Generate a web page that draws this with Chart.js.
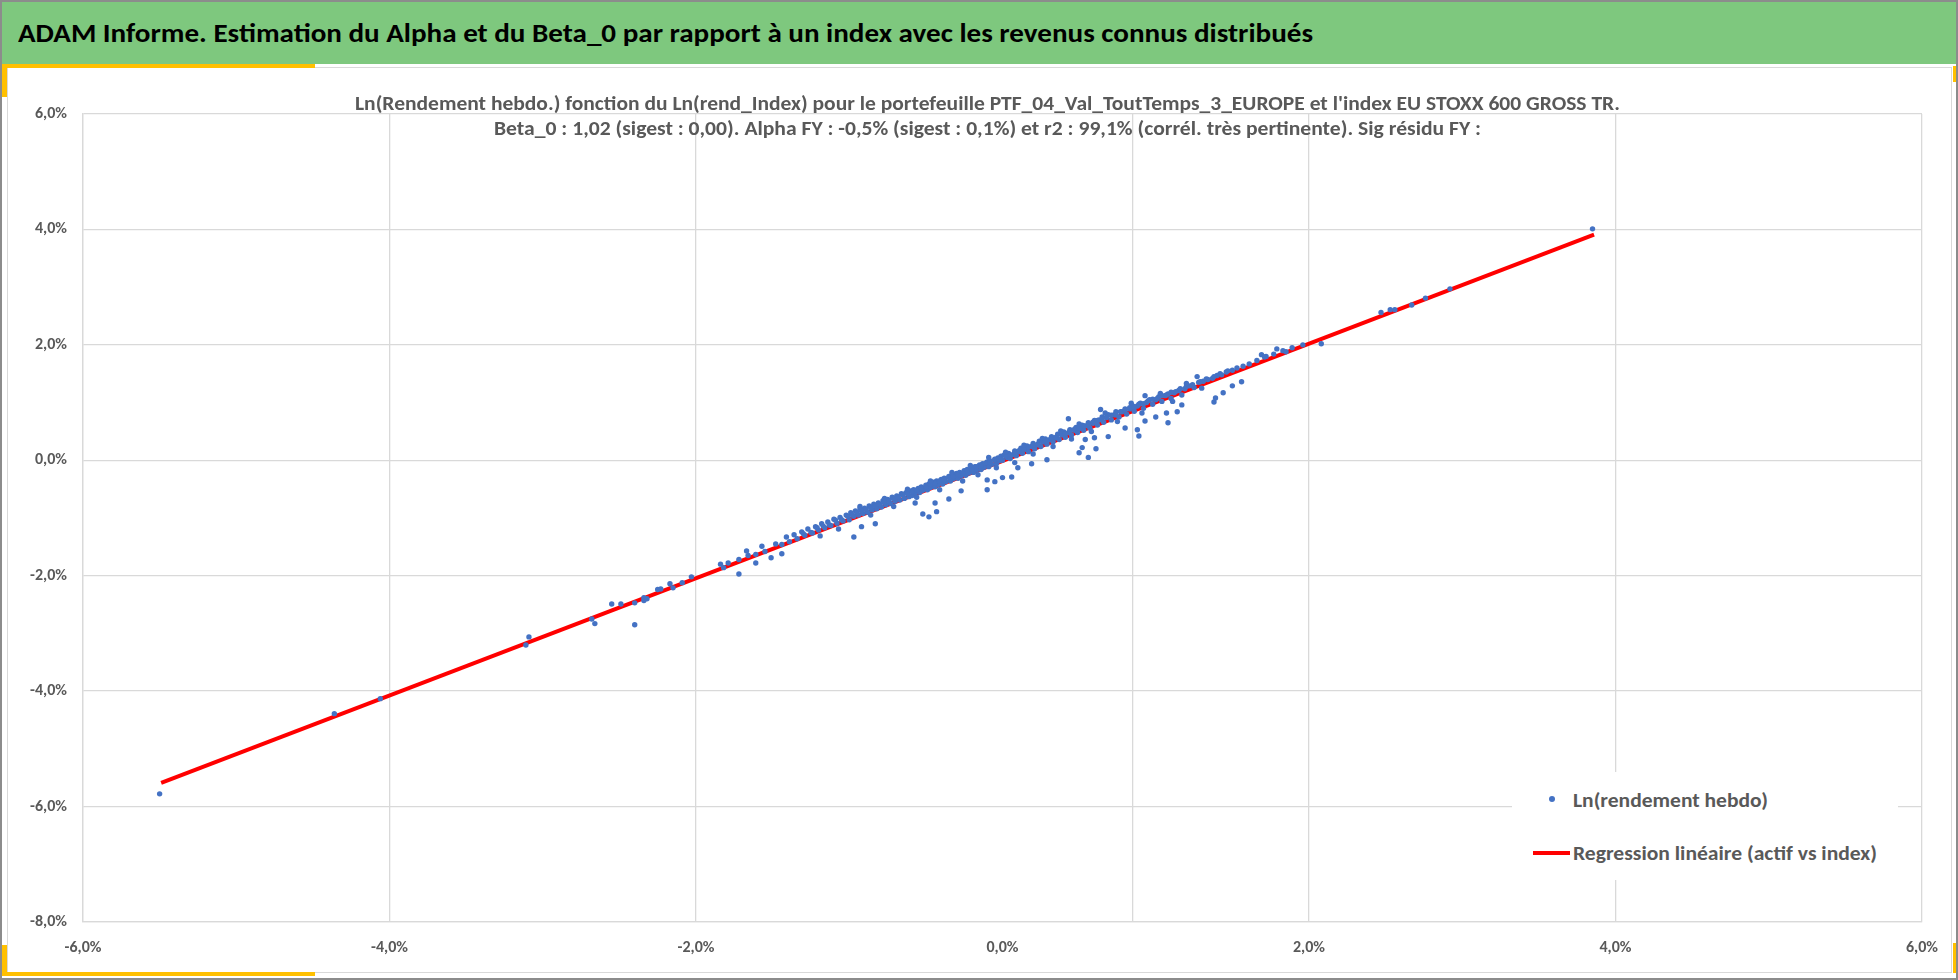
<!DOCTYPE html>
<html>
<head>
<meta charset="utf-8">
<title>ADAM Informe - Alpha et Beta_0</title>
<script src="https://cdn.jsdelivr.net/npm/chart.js@4.4.1/dist/chart.umd.min.js"></script>
<style>
  body { margin: 0; background: #fff; }
  #page { position: relative; width: 1958px; height: 980px; overflow: hidden; background: #fff;
          font-family: Carlito, Calibri, Lato, "Open Sans", sans-serif; }
  #cadre { position: absolute; left: 0; top: 0; width: 1954px; height: 976px; border: 2px solid #8c8c8c; }
  #bandeau { position: absolute; left: 2px; top: 2px; width: 1954px; height: 62px; background: #7ec87e; }
  #panneau { position: absolute; left: 7px; top: 67px; width: 1943px; height: 904px; border: 1px solid #d9d9d9; }
  .orange { position: absolute; background: #ffc000; }
  .txt { position: absolute; white-space: nowrap; font-weight: bold; transform-origin: left center; }
  #legende { position: absolute; left: 1512px; top: 772px; width: 386px; height: 108px; background: #fff; }
  canvas { position: absolute; left: 0; top: 0; }
</style>
</head>
<body>
<div id="page">
  <div id="cadre"></div>
  <div id="bandeau"></div>
  <div id="panneau"></div>
  <div class="orange" style="left:2px;top:64px;width:313px;height:4px"></div>
  <div class="orange" style="left:2px;top:64px;width:5px;height:33px"></div>
  <div class="orange" style="left:2px;top:972px;width:313px;height:4px"></div>
  <div class="orange" style="left:2px;top:945px;width:5px;height:31px"></div>
  <div class="orange" style="left:1953px;top:66px;width:3px;height:16px"></div>
  <div class="orange" style="left:1953px;top:943px;width:3px;height:30px"></div>

  <div class="txt" id="titre" data-x="18" data-cy="33" data-w="1295"
       style="font-size:27px;line-height:32px;color:#000">ADAM Informe. Estimation du Alpha et du Beta_0 par rapport à un index avec les revenus connus distribués</div>

  <canvas id="graphique" width="1958" height="980"></canvas>

  <div class="txt" data-cx="987" data-cy="103" data-w="1265"
       style="font-size:20px;line-height:24px;color:#595959">Ln(Rendement hebdo.) fonction du Ln(rend_Index) pour le portefeuille PTF_04_Val_ToutTemps_3_EUROPE et l'index EU STOXX 600 GROSS TR.</div>
  <div class="txt" data-cx="987" data-cy="128" data-w="987"
       style="font-size:20px;line-height:24px;color:#595959">Beta_0 : 1,02 (sigest : 0,00).  Alpha FY : -0,5% (sigest : 0,1%) et r2 : 99,1% (corrél. très pertinente). Sig résidu FY :</div>

  <div id="legende"></div>
  <div style="position:absolute;left:1549px;top:796px;width:6px;height:6px;border-radius:50%;background:#4472c4"></div>
  <div style="position:absolute;left:1533px;top:851px;width:37px;height:4px;background:#ff0000"></div>
  <div class="txt" data-x="1573" data-cy="800" data-w="195"
       style="font-size:20px;line-height:24px;color:#595959">Ln(rendement hebdo)</div>
  <div class="txt" data-x="1573" data-cy="853" data-w="304"
       style="font-size:20px;line-height:24px;color:#595959">Regression linéaire (actif vs index)</div>
</div>

<script>
// Graduations des axes (en %)
const xTicks = [-6, -4, -2, 0, 2, 4, 6];
const yTicks = [-8, -6, -4, -2, 0, 2, 4, 6];
// Lignes verticales du quadrillage telles qu'elles apparaissent
const xGrid = [-6, -4, -2, 0.85, 2, 4, 6];

// Droite de regression (Ln rend_Index -> Ln rendement portefeuille)
const regX = [-5.49, 3.86];
const regY = [-5.59, 3.91];

// Semaines : [Ln(rend_Index) %, Ln(rendement hebdo) %]
const queueBasse = [[-5.50,-5.78],[-4.36,-4.39],[-4.06,-4.13],[-3.11,-3.20],[-3.09,-3.06],[-2.68,-2.75],[-2.66,-2.83],
  [-2.55,-2.49],[-2.49,-2.49],[-2.40,-2.85],[-2.40,-2.47],[-2.34,-2.38],[-2.34,-2.43],[-2.32,-2.40],[-2.25,-2.24],
  [-2.23,-2.23],[-2.17,-2.14],[-2.15,-2.21],[-2.09,-2.12],[-2.03,-2.02],[-1.84,-1.80],[-1.82,-1.86],[-1.79,-1.78],
  [-1.72,-1.72],[-1.72,-1.97],[-1.67,-1.57],[-1.66,-1.65],[-1.61,-1.78],[-1.61,-1.63],[-1.57,-1.49],[-1.55,-1.58],
  [-1.51,-1.69],[-1.48,-1.45]];

const bandeA = [[-1.44,-1.46],[-1.41,-1.33],[-1.39,-1.41],[-1.36,-1.29],[-1.34,-1.36],[-1.31,-1.24],[-1.29,-1.30],
  [-1.27,-1.19],[-1.24,-1.26],[-1.22,-1.15],[-1.20,-1.21],[-1.18,-1.10],[-1.16,-1.17],[-1.14,-1.07],[-1.12,-1.13],
  [-1.10,-1.02],[-1.08,-1.09],[-1.06,-0.99],[-1.04,-1.05],[-1.02,-0.95]];

const bandeB = [[-1.00,-1.03],[-0.99,-0.91],[-0.97,-0.97],[-0.96,-0.88],[-0.94,-0.95],[-0.93,-0.84],[-0.91,-0.92],
  [-0.90,-0.83],[-0.88,-0.90],[-0.87,-0.79],[-0.85,-0.86],[-0.84,-0.76],[-0.82,-0.84],[-0.81,-0.74],[-0.79,-0.81],
  [-0.78,-0.70],[-0.76,-0.77],[-0.75,-0.68],[-0.73,-0.75],[-0.72,-0.64],[-0.70,-0.71],[-0.69,-0.62],[-0.67,-0.69],
  [-0.66,-0.58],[-0.64,-0.66],[-0.63,-0.56],[-0.61,-0.63]];

const bandeC = [[-0.60,-0.53],[-0.59,-0.61],[-0.58,-0.51],[-0.57,-0.57],[-0.55,-0.49],[-0.54,-0.56],[-0.53,-0.46],
  [-0.52,-0.52],[-0.50,-0.43],[-0.49,-0.51],[-0.48,-0.41],[-0.47,-0.47],[-0.45,-0.38],[-0.44,-0.46],[-0.43,-0.36],
  [-0.42,-0.42],[-0.40,-0.33],[-0.39,-0.41],[-0.38,-0.31],[-0.37,-0.37],[-0.35,-0.28],[-0.34,-0.36],[-0.33,-0.26],
  [-0.32,-0.32],[-0.30,-0.23],[-0.29,-0.31],[-0.28,-0.21],[-0.27,-0.27],[-0.25,-0.18],[-0.24,-0.26],[-0.23,-0.16],
  [-0.22,-0.22],[-0.20,-0.13],[-0.19,-0.21],[-0.18,-0.11],[-0.17,-0.17],[-0.15,-0.08],[-0.14,-0.16],[-0.13,-0.06],
  [-0.12,-0.12],[-0.10,-0.03],[-0.09,-0.11],[-0.08,-0.01],[-0.07,-0.07],[-0.05,0.02],[-0.04,-0.06],[-0.03,0.04],
  [-0.02,-0.01],[-0.01,0.07]];

const bandeD = [[0.00,0.00],[0.01,0.09],[0.03,0.05],[0.04,0.12],[0.05,0.03],[0.07,0.10],[0.08,0.16],[0.09,0.08],
  [0.11,0.15],[0.12,0.21],[0.13,0.12],[0.15,0.19],[0.16,0.25],[0.17,0.15],[0.19,0.24],[0.20,0.29],[0.21,0.20],
  [0.23,0.28],[0.24,0.33],[0.25,0.24],[0.27,0.32],[0.28,0.37],[0.29,0.28],[0.31,0.36],[0.32,0.41],[0.33,0.32],
  [0.35,0.40],[0.36,0.45],[0.37,0.36],[0.39,0.44],[0.40,0.49],[0.41,0.40],[0.43,0.48],[0.44,0.53],[0.45,0.44],
  [0.47,0.52],[0.48,0.57],[0.49,0.48],[0.51,0.56],[0.52,0.61],[0.53,0.52],[0.55,0.60],[0.56,0.65],[0.57,0.56],
  [0.59,0.64]];

const bandeE = [[0.60,0.69],[0.62,0.61],[0.63,0.70],[0.65,0.75],[0.66,0.66],[0.68,0.74],[0.69,0.79],[0.71,0.70],
  [0.73,0.79],[0.74,0.84],[0.76,0.75],[0.78,0.84],[0.80,0.89],[0.81,0.80],[0.83,0.89],[0.85,0.94],[0.86,0.85],
  [0.88,0.94],[0.90,0.99],[0.92,0.90],[0.94,1.00],[0.96,1.05],[0.98,0.97],[1.00,1.05],[1.02,1.10],[1.04,1.02],
  [1.06,1.12],[1.08,1.15],[1.10,1.07],[1.12,1.17],[1.15,1.21],[1.17,1.13],[1.19,1.24]];

const bandeF = [[1.22,1.29],[1.25,1.26],[1.28,1.35],[1.31,1.37],[1.34,1.40],[1.37,1.42],[1.40,1.47],[1.43,1.48],
  [1.46,1.53],[1.50,1.56],[1.53,1.60],[1.57,1.63],[1.61,1.67],[1.66,1.73],[1.72,1.80],[1.77,1.84],[1.83,1.90],
  [1.89,1.95]];

const bandeMilieu = [[-1.30,-1.27],[-1.25,-1.25],[-1.21,-1.17],[-1.17,-1.14],[-1.13,-1.12],[-1.09,-1.04],[-1.05,-1.03],
  [-1.01,-0.97],[-0.98,-0.95],[-0.95,-0.91],[-0.92,-0.88],[-0.89,-0.85],[-0.86,-0.82],[-0.83,-0.79],[-0.80,-0.77],
  [-0.77,-0.73],[-0.74,-0.70],[-0.71,-0.66],[-0.68,-0.64],[-0.65,-0.60],[-0.62,-0.58],[-0.59,-0.54],[-0.56,-0.52],
  [-0.53,-0.48],[-0.50,-0.46],[-0.47,-0.42],[-0.44,-0.40],[-0.41,-0.36],[-0.38,-0.34],[-0.35,-0.30],[-0.32,-0.28],
  [-0.29,-0.24],[-0.26,-0.22],[-0.23,-0.17],[-0.20,-0.16],[-0.17,-0.11],[-0.14,-0.09],[-0.11,-0.05],[-0.08,-0.04],
  [-0.05,0.01],[-0.02,0.02],[0.02,0.08],[0.05,0.09],[0.08,0.14],[0.11,0.17],[0.14,0.20],[0.17,0.23],[0.20,0.26],
  [0.23,0.27],[0.26,0.32],[0.29,0.33],[0.32,0.38],[0.35,0.39],[0.38,0.45],[0.41,0.46],[0.44,0.51],[0.47,0.54],
  [0.50,0.55],[0.53,0.60],[0.56,0.61],[0.59,0.66],[0.62,0.69],[0.65,0.71],[0.68,0.75],[0.71,0.78],[0.74,0.79],
  [0.77,0.84],[0.80,0.87],[0.83,0.91],[0.86,0.92],[0.89,0.97],[0.92,0.98],[0.95,1.03],[0.98,1.06],[1.01,1.07],
  [1.04,1.12],[1.07,1.13],[1.10,1.18],[1.13,1.19],[1.16,1.24],[1.20,1.28],[1.24,1.31],[1.29,1.36],[1.33,1.41],
  [1.38,1.45],[1.42,1.50],[1.47,1.55]];

const bordsBande = [[-0.93,-0.80],[-0.86,-0.95],[-0.77,-0.66],[-0.71,-0.80],[-0.62,-0.50],[-0.56,-0.64],[-0.47,-0.36],
  [-0.41,-0.51],[-0.33,-0.21],[-0.26,-0.36],[-0.21,-0.09],[-0.16,-0.25],[-0.09,0.05],[-0.04,-0.13],[0.02,0.14],
  [0.08,-0.04],[0.14,0.26],[0.20,0.11],[0.26,0.38],[0.33,0.24],[0.38,0.51],[0.45,0.37],[0.50,0.63],[0.58,0.50],
  [0.67,0.82],[0.75,0.67],[0.84,0.99],[0.91,0.82],[1.03,1.16],[1.11,1.02],[1.20,1.33],[1.30,1.25]];

const sousLaDroite = [[-1.44,-1.62],[-1.19,-1.31],[-1.07,-1.19],[-0.97,-1.33],[-0.92,-1.15],[-0.83,-1.10],[-0.57,-0.74],
  [-0.52,-0.93],[-0.48,-0.98],[-0.44,-0.74],[-0.43,-0.89],[-0.35,-0.67],[-0.27,-0.53],[-0.10,-0.51],[-0.10,-0.34],
  [-0.05,-0.37],[0.00,-0.30],[0.06,-0.29],[0.10,-0.13],[0.19,-0.06],[0.29,0.01],[0.50,0.13],[0.52,0.22],[0.56,0.05],
  [0.54,0.36],[0.61,0.20],[0.60,0.39],[0.69,0.41],[0.80,0.56],[0.88,0.53],[0.89,0.42],[0.93,0.68],[1.00,0.75],
  [1.08,0.65],[1.07,0.82],[1.14,0.84],[1.17,0.96],[1.38,1.01],[1.39,1.08],[1.44,1.17],[1.50,1.29],[1.56,1.36]];

const auDessus = [[0.43,0.72],[0.64,0.88],[0.93,1.12],[1.27,1.45],[1.69,1.83],[1.79,1.93],[1.85,1.88],[1.71,1.79]];

const queueHaute = [[1.96,2.00],[2.08,2.02],[2.47,2.56],[2.53,2.61],[2.56,2.61],[2.67,2.69],[2.76,2.81],[2.92,2.97],
  [3.85,4.01]];

const pct = v => v.toFixed(1).replace('.', ',') + '%';

const semaines = [].concat(queueBasse, bandeA, bandeB, bandeC, bandeD, bandeE, bandeF, bandeMilieu, bordsBande,
  sousLaDroite, auDessus, queueHaute).map(p => ({ x: p[0], y: p[1] }));
const droite = regX.map((x, i) => ({ x: x, y: regY[i] }));

const police = { family: 'Carlito, Calibri, Lato, "Open Sans", sans-serif', size: 16, weight: 'bold' };
const gris = '#d9d9d9';

new Chart(document.getElementById('graphique'), {
  type: 'scatter',
  data: {
    datasets: [{
      label: 'Ln(rendement hebdo)',
      data: semaines,
      pointRadius: 2.7,
      pointBackgroundColor: '#4472c4',
      pointBorderWidth: 0,
      order: 0
    }, {
      type: 'line',
      label: 'Regression linéaire (actif vs index)',
      data: droite,
      borderColor: '#ff0000',
      borderWidth: 4,
      pointRadius: 0,
      fill: false,
      order: 1
    }]
  },
  options: {
    responsive: false,
    animation: false,
    devicePixelRatio: 1,
    layout: { padding: { left: 0, top: 114, right: 36, bottom: 18 } },
    plugins: { legend: { display: false }, title: { display: false }, tooltip: { enabled: false } },
    scales: {
      x: {
        type: 'linear', min: -6, max: 6,
        afterBuildTicks: s => {
          s.ticks = Array.from(new Set(xTicks.concat(xGrid))).sort((a, b) => a - b).map(v => ({ value: v }));
        },
        afterFit: s => { s.height = 40; },
        grid: { color: c => (c.tick && xGrid.includes(c.tick.value)) ? gris : 'rgba(0,0,0,0)', drawTicks: false, lineWidth: 1.3 },
        border: { color: gris, width: 1.3 },
        ticks: { autoSkip: false, maxRotation: 0, padding: 16, color: '#595959', font: police,
                 callback: v => xTicks.includes(v) ? pct(v) : '' }
      },
      y: {
        type: 'linear', min: -8, max: 6,
        afterBuildTicks: s => { s.ticks = yTicks.map(v => ({ value: v })); },
        afterFit: s => { s.width = 83; },
        grid: { color: gris, drawTicks: false, lineWidth: 1.3 },
        border: { color: gris, width: 1.3 },
        ticks: { padding: 16, color: '#595959', font: police, callback: v => pct(v) }
      }
    }
  }
});

// Ajustement des textes a la largeur mesuree sur l'original
function ajuster() {
  document.querySelectorAll('.txt').forEach(el => {
    el.style.transform = 'none';
    const w0 = el.getBoundingClientRect().width;
    const h = el.getBoundingClientRect().height;
    const w = +el.dataset.w;
    el.style.transform = 'scaleX(' + (w / w0) + ')';
    const left = el.dataset.cx ? (+el.dataset.cx - w / 2) : +el.dataset.x;
    el.style.left = left + 'px';
    el.style.top = (+el.dataset.cy - h / 2) + 'px';
  });
}
ajuster();
if (document.fonts && document.fonts.ready) document.fonts.ready.then(ajuster);
</script>
</body>
</html>
